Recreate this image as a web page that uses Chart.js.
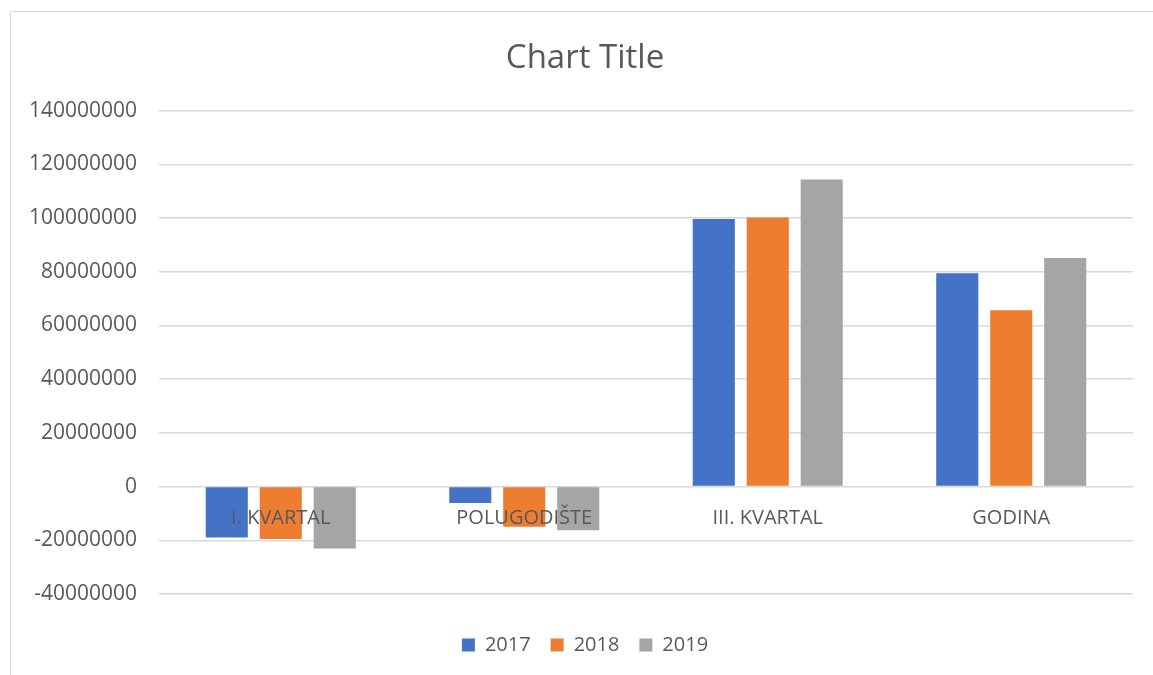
<!DOCTYPE html>
<html>
<head>
<meta charset="utf-8">
<script src="https://cdn.jsdelivr.net/npm/chart.js@4"></script>
<style>
	html, body { margin: 0; padding: 0; background: #fff; overflow: hidden; }
	#frame {
		position: absolute; left: 10px; top: 11px;
		width: 1160px; height: 700px;
		border: 1px solid #d9d9d9; box-sizing: border-box;
	}
	#wrap { position: absolute; left: 11px; top: 12px; width: 1148px; height: 663px; }
</style>
</head>
<body>
<div id="frame"></div>
<div id="wrap"><canvas id="bar-chart"></canvas></div>
<script>
const categories = ["I. KVARTAL", "POLUGODIŠTE", "III. KVARTAL", "GODINA"];
const years = ["2017", "2018", "2019"];
const values2017 = [-19000000, -6100000, 99600000, 79400000];
const values2018 = [-19500000, -15000000, 100200000, 65700000];
const values2019 = [-23100000, -16300000, 114300000, 85100000];
const colors = ["#4472C4", "#ED7D31", "#A5A5A5"];

const txt = "#595959";
const font = "'Open Sans', sans-serif";

const series = [values2017, values2018, values2019];

let ctx = document.getElementById("bar-chart").getContext("2d");

// blank axis used only to hold space
const spacer = (pos, size) => ({
	type: "category",
	position: pos,
	grid: { display: false, drawTicks: false },
	border: { display: false },
	ticks: { display: false },
	afterFit: (scale) => {
		if (pos === "bottom") scale.height = size;
		else scale.width = size;
	},
});

new Chart(ctx, {
	type: "bar",
	data: {
		labels: categories,
		datasets: years.map((y, i) => ({
			label: y,
			data: series[i],
			xAxisID: "x",
			yAxisID: "y",
			backgroundColor: colors[i],
			borderWidth: 0,
			categoryPercentage: 0.665,
			barPercentage: 0.78,
		})),
	},
	options: {
		responsive: true,
		maintainAspectRatio: false,
		animation: false,
		layout: { padding: { left: 0, right: 0, top: 0, bottom: 10 } },
		scales: {
			x: {
				position: { y: 0 },
				grid: { display: false, drawTicks: false },
				border: { display: false },
				ticks: { z: 1, color: txt, font: { family: font, size: 20 }, padding: 20, maxRotation: 0 },
			},
			y: {
				min: -40000000,
				max: 140000000,
				grid: { color: "#d9d9d9", lineWidth: 1.5, drawTicks: false },
				border: { display: false },
				ticks: {
					stepSize: 20000000,
					color: txt,
					font: { family: font, size: 21 },
					padding: 22,
					callback: (v) => String(v),
				},
				afterFit: (scale) => { scale.width = 148; },
			},
			xGap: spacer("bottom", 21),
			yGap: Object.assign(spacer("right", 26), { axis: "y" }),
		},
		plugins: {
			title: {
				display: true,
				text: "Chart Title",
				color: txt,
				font: { family: font, size: 33, weight: "normal" },
				padding: { top: 27, bottom: 32 },
			},
			legend: {
				position: "bottom",
				labels: {
					color: txt,
					font: { family: font, size: 20 },
					boxWidth: 13,
					boxHeight: 13,
					padding: 20,
				},
			},
			tooltip: { enabled: false },
		},
	},
});
</script>
</body>
</html>
